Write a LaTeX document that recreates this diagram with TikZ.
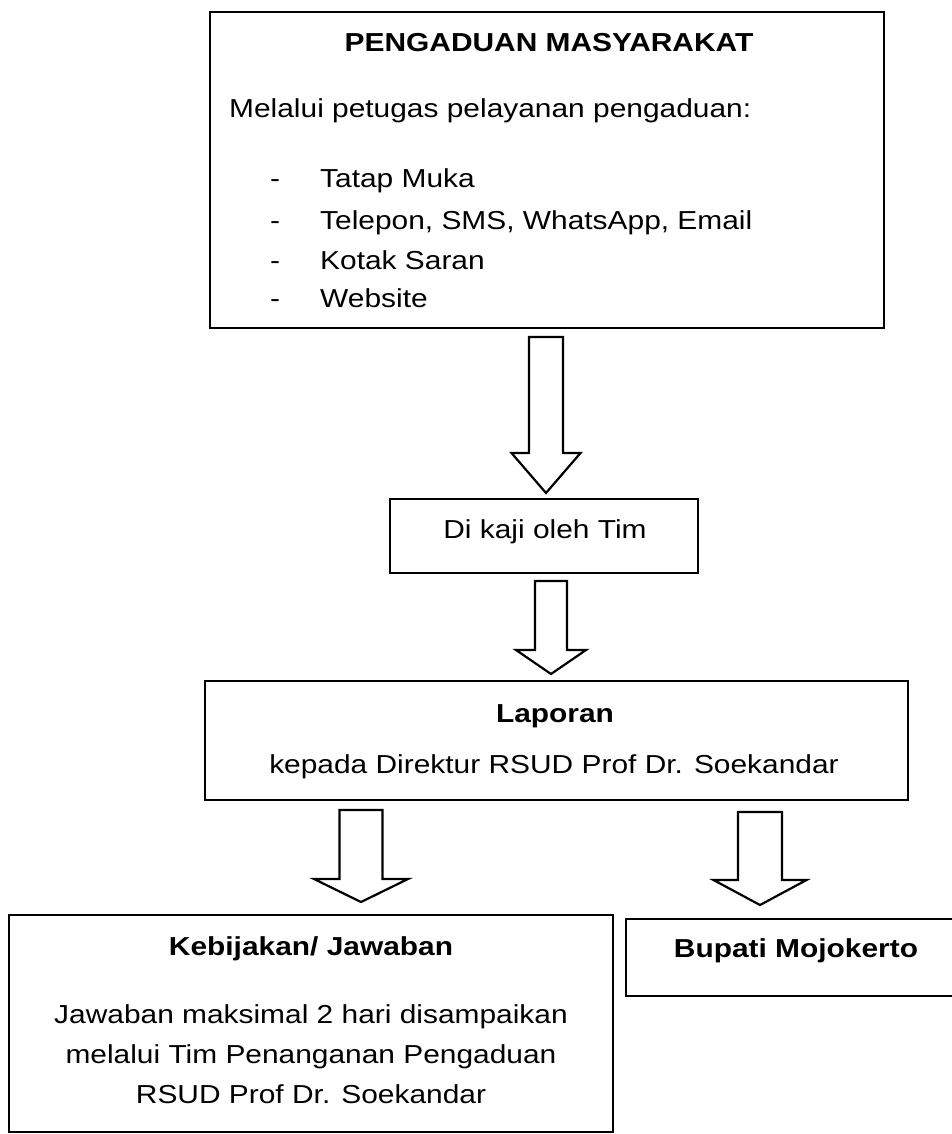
\documentclass[tikz,border=0pt]{standalone}
\usepackage{fontspec}
\setmainfont{Liberation Sans}[FakeStretch=1.15]
\usetikzlibrary{calc}

% hollow block arrow: from, to, half shaft, half head, head length
\newcommand{\blokpanah}[5]{%
  \draw[panah] let \p1=(#1), \p2=(#2) in
    (\x1-#3,\y1) -- (\x1+#3,\y1) -- (\x1+#3,\y2+#5) -- (\x1+#4,\y2+#5)
    -- (\x2,\y2) -- (\x1-#4,\y2+#5) -- (\x1-#3,\y2+#5) -- cycle;}

\begin{document}
\begin{tikzpicture}[x=1pt,y=-1pt,
  kotak/.style={draw,line width=2.4pt,inner sep=0pt},
  teks/.style={inner sep=0pt,anchor=base,font=\fontsize{26}{40}\selectfont},
  judul/.style={teks,font=\fontsize{26}{40}\selectfont\bfseries},
  panah/.style={line width=2.2pt,line join=miter}]
  \useasboundingbox (0,0) rectangle (951,1134);

  % boxes
  \node[kotak,minimum width=674pt,minimum height=316pt] (pengaduan) at (547,170) {};
  \node[kotak,minimum width=308pt,minimum height=74pt] (kaji) at (544,536) {};
  \node[kotak,minimum width=703pt,minimum height=119pt] (laporan) at (556.5,740.5) {};
  \node[kotak,minimum width=604pt,minimum height=217pt] (kebijakan) at (311,1023.5) {};
  \node[kotak,minimum width=340pt,minimum height=77pt] (bupati) at (796,957.5) {};

  % texts
  \node[judul] (t1) at (549,52) {PENGADUAN MASYARAKAT};
  \node[teks,anchor=base west] (t2) at (229,118) {Melalui petugas pelayanan pengaduan:};
  \node[teks,anchor=base west] (i1) at (270,188) {\makebox[50pt][l]{-}Tatap Muka};
  \node[teks,anchor=base west] (i2) at (270,229) {\makebox[50pt][l]{-}Telepon, SMS, WhatsApp, Email};
  \node[teks,anchor=base west] (i3) at (270,269) {\makebox[50pt][l]{-}Kotak Saran};
  \node[teks,anchor=base west] (i4) at (270,307) {\makebox[50pt][l]{-}Website};
  \node[teks] (t3) at (545,538) {Di kaji oleh Tim};
  \node[judul] (t4) at (555,722) {Laporan};
  \node[teks] (t5) at (554,773) {kepada Direktur RSUD Prof Dr. Soekandar};
  \node[judul] (t6) at (311,955) {Kebijakan/ Jawaban};
  \node[teks] (j1) at (311,1023) {Jawaban maksimal 2 hari disampaikan};
  \node[teks] (j2) at (311,1063) {melalui Tim Penanganan Pengaduan};
  \node[teks] (j3) at (311,1103) {RSUD Prof Dr. Soekandar};
  \node[judul] (t7) at (796,957) {Bupati Mojokerto};

  % arrows
  \coordinate (p1a) at (546,337);
  \coordinate (p1b) at (546,493);
  \coordinate (p2a) at (551,581);
  \coordinate (p2b) at (551,674);
  \coordinate (p3a) at (361,810);
  \coordinate (p3b) at (361,902);
  \coordinate (p4a) at (760,812);
  \coordinate (p4b) at (760,905);
  \blokpanah{p1a}{p1b}{17pt}{34.5pt}{40pt}
  \blokpanah{p2a}{p2b}{16pt}{35pt}{24pt}
  \blokpanah{p3a}{p3b}{21.5pt}{47pt}{23pt}
  \blokpanah{p4a}{p4b}{22pt}{46.5pt}{25pt}
\end{tikzpicture}
\end{document}
